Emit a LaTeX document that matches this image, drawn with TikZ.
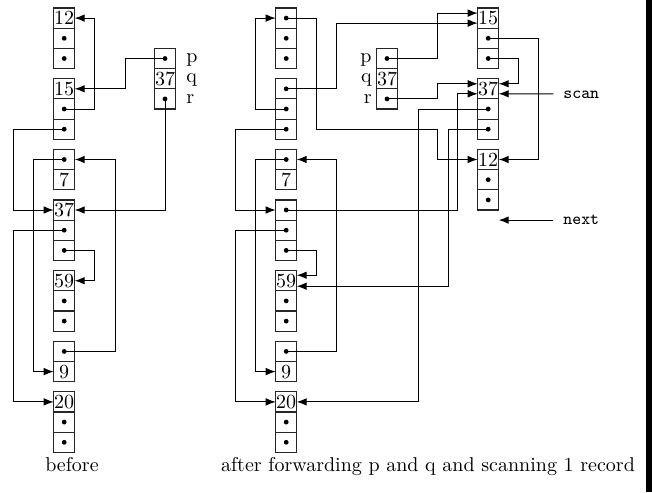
\documentclass[tikz,border=0pt]{standalone}
\usetikzlibrary{arrows.meta,calc}
\begin{document}
\begin{tikzpicture}[x=0.5pt,y=-0.5pt,
  cell/.style={draw=black!85, line width=0.6pt, minimum width=10.5pt,
    minimum height=10.1pt, inner sep=0pt, outer sep=0pt},
  ptr/.style={line width=0.5pt, -{Latex[length=5pt,width=3.8pt]}},
  lbl/.style={inner sep=0pt},
  ttlbl/.style={inner sep=0pt, font=\fontsize{8.5}{10}\ttfamily},
]
% a cell that holds a pointer: empty box with a dot in its middle
\newcommand\ptrcell[3]{\node[cell] (#1) at (#2,#3) {};
  \fill (#1.center) circle (1.2pt);}

\useasboundingbox (0,0) rectangle (652,492);
\fill (646,0) rectangle (652,492);

% ---------------- before ----------------
\node[cell] (bA12) at (64.2,18.1) {12};
\ptrcell{bA12b}{64.2}{38.3}
\ptrcell{bA12c}{64.2}{58.5}
\node[cell] (bA15) at (64.2,88.8) {15};
\ptrcell{bA15b}{64.2}{109.0}
\ptrcell{bA15c}{64.2}{129.2}
\ptrcell{bA7a}{64.2}{159.5}
\node[cell] (bA7) at (64.2,179.7) {7};
\node[cell] (bA37) at (64.2,210.0) {37};
\ptrcell{bA37b}{64.2}{230.2}
\ptrcell{bA37c}{64.2}{250.4}
\node[cell] (bA59) at (64.2,280.7) {59};
\ptrcell{bA59b}{64.2}{300.9}
\ptrcell{bA59c}{64.2}{321.1}
\ptrcell{bA9a}{64.2}{351.4}
\node[cell] (bA9) at (64.2,371.6) {9};
\node[cell] (bA20) at (64.2,401.9) {20};
\ptrcell{bA20b}{64.2}{422.1}
\ptrcell{bA20c}{64.2}{442.3}

% roots
\ptrcell{bp}{165}{58.5}
\node[cell] (bq) at (165,78.7) {37};
\ptrcell{br}{165}{98.9}
\node[lbl, anchor=base west] (bpl) at (186,62.8) {p};
\node[lbl, anchor=base west] (bql) at (186,83.0) {q};
\node[lbl, anchor=base west] (brl) at (186,103.2) {r};

\coordinate (bx1) at (94.5,0);
\coordinate (bx2) at (125,0);
\coordinate (bx3) at (13.7,0);
\coordinate (bx4) at (33.7,0);
\coordinate (bx5) at (115,0);

\draw[ptr] (bA15b.center) -- (bx1 |- bA15b.center) |- (bA12.east);
\draw[ptr] (bp.center) -- (bx2 |- bp.center) |- (bA15.east);
\draw[ptr] (bA15c.center) -- (bx3 |- bA15c.center) |- (bA37.west);
\draw[ptr] (br.center) |- (bA37.east);
\draw[ptr] (bA7a.center) -- (bx4 |- bA7a.center) |- (bA9.west);
\draw[ptr] (bA9a.center) -- (bx5 |- bA9a.center) |- (bA7a.east);
\draw[ptr] (bA37b.center) -- (bx3 |- bA37b.center) |- (bA20.west);
\draw[ptr] (bA37c.center) -- (bx1 |- bA37c.center) |- (bA59.east);

\node[lbl, anchor=base] (capb) at (72,471) {before};

% ---------------- after ----------------
\ptrcell{A0a}{286.2}{18.1}
\ptrcell{A0b}{286.2}{38.3}
\ptrcell{A0c}{286.2}{58.5}
\ptrcell{A15a}{286.2}{88.8}
\ptrcell{A15b}{286.2}{109.0}
\ptrcell{A15c}{286.2}{129.2}
\ptrcell{A7a}{286.2}{159.5}
\node[cell] (A7) at (286.2,179.7) {7};
\ptrcell{A37a}{286.2}{210.0}
\ptrcell{A37b}{286.2}{230.2}
\ptrcell{A37c}{286.2}{250.4}
\node[cell] (A59) at (286.2,280.7) {59};
\ptrcell{A59b}{286.2}{300.9}
\ptrcell{A59c}{286.2}{321.1}
\ptrcell{A9a}{286.2}{351.4}
\node[cell] (A9) at (286.2,371.6) {9};
\node[cell] (A20) at (286.2,401.9) {20};
\ptrcell{A20b}{286.2}{422.1}
\ptrcell{A20c}{286.2}{442.3}

% roots
\ptrcell{ap}{387}{58.5}
\node[cell] (aq) at (387,78.7) {37};
\ptrcell{ar}{387}{98.9}
\node[lbl, anchor=base east] (apl) at (372,62.8) {p};
\node[lbl, anchor=base east] (aql) at (372,83.0) {q};
\node[lbl, anchor=base east] (arl) at (372,103.2) {r};

% to-space
\node[cell] (B15) at (488.2,18.1) {15};
\ptrcell{B15b}{488.2}{38.3}
\ptrcell{B15c}{488.2}{58.5}
\node[cell] (B37) at (488.2,88.8) {37};
\ptrcell{B37b}{488.2}{109.0}
\ptrcell{B37c}{488.2}{129.2}
\node[cell] (B12) at (488.2,159.5) {12};
\ptrcell{B12b}{488.2}{179.7}
\ptrcell{B12c}{488.2}{199.9}

\coordinate (axl1) at (235.7,0);
\coordinate (axl2) at (255.7,0);
\coordinate (axr1) at (316.7,0);
\coordinate (axr2) at (336.7,0);
\coordinate (axm) at (418,0);
\coordinate (axn) at (437.3,0);
\coordinate (axo) at (448.3,0);
\coordinate (axq) at (457.3,0);
\coordinate (bxr1) at (518.3,0);
\coordinate (bxr2) at (538.3,0);

\draw[ptr] (A0a.center) -- (axr1 |- A0a.center) -- (axr1 |- A15c.center)
  -- (axn |- A15c.center) |- (B12.west);
\draw[ptr] (ap.center) -- (axn |- ap.center) |- ($(B15.west)+(0,-5)$);
\draw[ptr] (A15a.center) -- (axr2 |- A15a.center) |- ($(B15.west)+(0,5)$);
\draw[ptr] (A15b.center) -- (axl2 |- A15b.center) |- (A0a.west);
\draw[ptr] (A15c.center) -- (axl1 |- A15c.center) |- (A37a.west);
\draw[ptr] (ar.center) -- (axn |- ar.center) |- ($(B37.west)+(0,-5)$);
\draw[ptr] (A37a.center) -- (axq |- A37a.center) |- ($(B37.west)+(0,5)$);
\draw[ptr] (A37b.center) -- (axl1 |- A37b.center) |- (A20.west);
\draw[ptr] (A37c.center) -- (axr1 |- A37c.center) |- ($(A59.east)+(0,-5.5)$);
\draw[ptr] (A7a.center) -- (axl2 |- A7a.center) |- (A9.west);
\draw[ptr] (A9a.center) -- (axr2 |- A9a.center) |- (A7a.east);
\draw[ptr] (B37b.center) -- (axm |- B37b.center) |- (A20.east);
\draw[ptr] (B37c.center) -- (axo |- B37c.center) |- ($(A59.east)+(0,5.5)$);
\draw[ptr] (B15b.center) -- (bxr2 |- B15b.center) |- (B12.east);
\draw[ptr] (B15c.center) -- (bxr1 |- B15c.center) |- ($(B37.east)+(0,-5)$);

\node[ttlbl, anchor=west] (scan) at (563,94.5) {scan};
\draw[ptr] ($(scan.west)+(-9.7,-0.7)$) -- ($(B37.east)+(0,5)$);
\node[ttlbl, anchor=west] (next) at (563,220.1) {next};
\draw[ptr] ($(next.west)+(-9.7,0)$) -- (next.west -| B12.east);

\node[lbl, anchor=base] (capa) at (428,471) {after forwarding p and q and scanning 1 record};
\end{tikzpicture}
\end{document}
